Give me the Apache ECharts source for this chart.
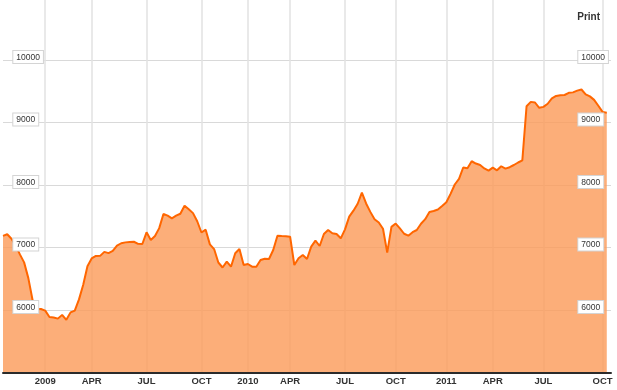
<!DOCTYPE html>
<html><head><meta charset="utf-8">
<script src="https://cdn.jsdelivr.net/npm/echarts@6/dist/echarts.min.js"></script>
<style>html,body{margin:0;padding:0;background:#fff}#c{width:617px;height:390px}</style>
</head><body><div id="c"></div>
<script>
// Tick labels on the time axis (quarter starts)
const quarterLabels = ['2009','APR','JUL','OCT','2010','APR','JUL','OCT','2011','APR','JUL','OCT'];
// number of samples before the first labelled quarter, and within each labelled quarter
const leadSamples = 10;
const samplesPerQuarter = [11,13,13,11,10,13,12,12,11,12,14,3];
// index values
const values = [
 7185,7212,7140,7030,6890,6762,6510,6160,6016,6015,
 5990,5887,5880,5862,5922,5843,5962,5990,6170,6405,6700,
 6825,6865,6866,6930,6910,6945,7030,7068,7082,7089,7092,7058,7056,
 7243,7120,7184,7310,7536,7510,7467,7509,7540,7669,7611,7550,7420,
 7240,7285,7050,6975,6760,6680,6773,6693,6907,6976,6720,
 6736,6693,6693,6800,6821,6816,6960,7189,7184,7180,
 7173,6720,6827,6880,6816,7013,7109,7024,7216,7280,7227,7216,7147,
 7291,7493,7589,7700,7877,7705,7570,7452,7400,7300,6917,7330,
 7383,7306,7220,7189,7245,7280,7380,7453,7567,7585,7608,7665,
 7725,7858,8008,8098,8280,8267,8380,8343,8320,8265,8229,
 8277,8235,8300,8262,8285,8320,8360,8395,9260,9330,9320,9235,
 9250,9300,9387,9425,9437,9440,9475,9482,9510,9528,9450,9418,9362,9268,
 9170,9157
];
const yTicks = [6000,7000,8000,9000,10000];
const yMin = 5000, yMax = 10960, yStep = 1000;
const cornerText = 'Print';

const categories = [];
for (let i = 0; i < leadSamples; i++) categories.push('pre|' + i);
quarterLabels.forEach((lab, q) => {
  for (let k = 0; k < samplesPerQuarter[q]; k++) categories.push(lab + '|' + q + '|' + k);
});
const isQuarterStart = (idx, val) => {
  const p = String(val).split('|');
  return p.length === 3 && p[2] === '0';
};
// grid lines: quarter starts plus the two ends (the ends are then hidden via showMin/MaxLine)
const gridLineAt = (idx, val) => idx === 0 || idx === categories.length - 1 || isQuarterStart(idx, val);

const font = '"Liberation Sans", Arial, Helvetica, sans-serif';
const yRich = {
  b: {fontFamily: font, fontSize: 8.5, color: '#333', backgroundColor: '#fff',
      borderColor: '#d4d4d4', borderWidth: 1, padding: [2,3,1,3], lineHeight: 10},
  s: {fontSize: 1, lineHeight: 6}
};
const yFmt = v => yTicks.includes(v) ? '{b|' + v + '}\n{s| }' : '';

const chart = echarts.init(document.getElementById('c'), null, {renderer: 'canvas'});
chart.setOption({
  animation: false,
  title: {text: cornerText, right: 17, top: 12, padding: 0,
    textStyle: {fontFamily: font, fontSize: 10, fontWeight: 'bold', color: '#333'}},
  grid: {left: 3, right: 6, top: 0, bottom: 17.5},
  xAxis: [
    {type: 'category', data: categories, boundaryGap: false, z: 0,
     axisLine: {show: false}, axisTick: {show: false}, axisLabel: {show: false},
     splitLine: {show: true, showMinLine: false, showMaxLine: false, interval: gridLineAt,
       lineStyle: {color: '#e2e2e2', width: 1.5}}},
    {type: 'category', data: categories, boundaryGap: false, position: 'bottom', z: 5,
     axisLine: {show: true, lineStyle: {color: '#2b2b2b', width: 2}},
     axisTick: {show: false}, splitLine: {show: false},
     axisLabel: {interval: isQuarterStart, margin: 4, formatter: v => String(v).split('|')[0],
       fontFamily: font, fontSize: 9.5, fontWeight: 'bold', color: '#333'}}
  ],
  yAxis: [
    {type: 'value', min: yMin, max: yMax, interval: yStep, position: 'left', z: 0,
     axisLine: {show: false}, axisTick: {show: false}, axisLabel: {show: false},
     splitLine: {show: true, showMinLine: false, showMaxLine: false,
       lineStyle: {color: '#d9d9d9', width: 1}}},
    {type: 'value', min: yMin, max: yMax, interval: yStep, position: 'left', z: 5,
     axisLine: {show: false}, axisTick: {show: false}, splitLine: {show: false},
     axisLabel: {inside: true, margin: 10.3, align: 'left', formatter: yFmt, rich: yRich}},
    {type: 'value', min: yMin, max: yMax, interval: yStep, position: 'right', z: 5,
     axisLine: {show: false}, axisTick: {show: false}, splitLine: {show: false},
     axisLabel: {inside: true, margin: 32.7, align: 'left', formatter: yFmt, rich: yRich}}
  ],
  series: [{
    type: 'line', xAxisIndex: 0, yAxisIndex: 0, data: values,
    showSymbol: false, symbol: 'none', smooth: false, z: 2,
    lineStyle: {color: '#ff6600', width: 2},
    areaStyle: {color: '#fb9a58', opacity: 0.8}
  }]
});
</script>
</body></html>
